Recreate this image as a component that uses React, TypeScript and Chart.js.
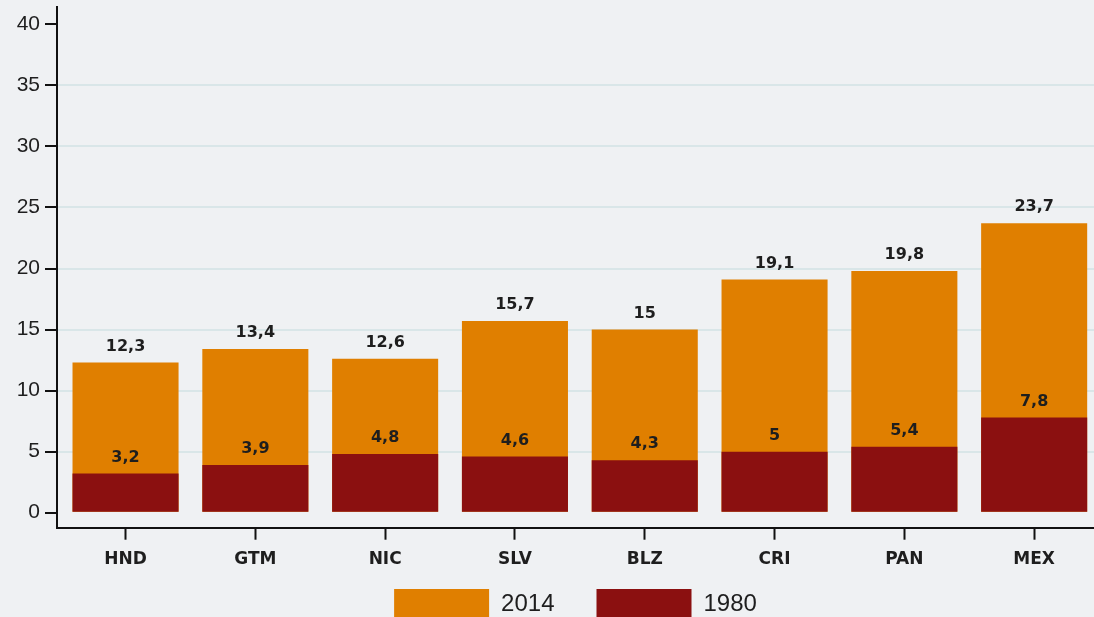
import React, { useEffect, useRef } from "react";
import { Chart, registerables } from "chart.js";

Chart.register(...registerables);

const categories = ["HND", "GTM", "NIC", "SLV", "BLZ", "CRI", "PAN", "MEX"];
const values2014 = [12.3, 13.4, 12.6, 15.7, 15, 19.1, 19.8, 23.7];
const values1980 = [3.2, 3.9, 4.8, 4.6, 4.3, 5, 5.4, 7.8];
const yTickValues = [0, 5, 10, 15, 20, 25, 30, 35, 40];
const seriesNames = ["2014", "1980"];

const fmt = (v: number) => String(v).replace(".", ",");

const valueLabels = {
  id: "valueLabels",
  afterDatasetsDraw(chart: any) {
    const ctx = chart.ctx;
    ctx.save();
    ctx.font = "bold 16px 'DejaVu Sans', sans-serif";
    ctx.fillStyle = "#1e1e1e";
    ctx.textAlign = "center";
    ctx.textBaseline = "middle";
    chart.data.datasets.forEach((ds: any, di: number) => {
      const meta = chart.getDatasetMeta(di);
      meta.data.forEach((bar: any, i: number) => {
        const v = ds.data[i].y;
        ctx.fillText(fmt(v), bar.x, bar.y - 16);
      });
    });
    ctx.restore();
  },
};

export default function App() {
  const ref = useRef<HTMLCanvasElement | null>(null);
  useEffect(() => {
    if (!ref.current) return;
    const chart = new Chart(ref.current, {
      type: "bar",
      data: {
        datasets: [
          {
            label: seriesNames[0],
            data: values2014.map((v, i) => ({ x: i, y: v })),
            backgroundColor: "#E07F00",
            grouped: false,
            order: 1,
            categoryPercentage: 1,
            barPercentage: 0.817,
          } as any,
          {
            label: seriesNames[1],
            data: values1980.map((v, i) => ({ x: i, y: v })),
            backgroundColor: "#8B1010",
            grouped: false,
            order: 0,
            categoryPercentage: 1,
            barPercentage: 0.817,
          } as any,
        ],
      },
      options: {
        responsive: false,
        animation: false,
        devicePixelRatio: 1,
        layout: { padding: { top: 7, left: 0, right: 0, bottom: 0 } },
        plugins: {
          tooltip: { enabled: false },
          legend: {
            position: "bottom",
            fullSize: false,
            labels: {
              boxWidth: 95,
              boxHeight: 30,
              padding: 42,
              color: "#1e1e1e",
              font: { family: "'Liberation Sans', Arial, sans-serif", size: 24 },
              sort: (a: any, b: any) => a.datasetIndex - b.datasetIndex,
            },
          },
        },
        scales: {
          x: {
            type: "linear",
            min: -0.528,
            max: 7.461,
            offset: false,
            afterBuildTicks: (scale: any) => {
              scale.ticks = categories.map((_, i) => ({ value: i }));
            },
            afterFit: (scale: any) => {
              scale.height = 19.3;
              scale.paddingLeft = 0;
              scale.paddingRight = 0;
              scale._computeLabelArea = () => undefined;
            },
            border: { display: true, color: "#111", width: 2 },
            grid: {
              offset: false,
              drawOnChartArea: false,
              drawTicks: true,
              tickLength: 12,
              tickColor: "#111",
              tickWidth: 2,
            },
            ticks: {
              padding: 10,
              autoSkip: false,
              maxRotation: 0,
              color: "#1e1e1e",
              font: { family: "'DejaVu Sans', sans-serif", size: 17, weight: "bold" },
              callback: (v: any) => categories[v] ?? "",
            },
          },
          y: {
            type: "linear",
            min: -1.23,
            max: 41.42,
            afterBuildTicks: (scale: any) => {
              scale.ticks = yTickValues.map((v) => ({ value: v }));
            },
            afterFit: (scale: any) => {
              scale.width = 57;
              scale.paddingTop = 0;
              scale.paddingBottom = 0;
            },
            border: { display: true, color: "#111", width: 2 },
            grid: {
              drawOnChartArea: true,
              color: (c: any) =>
                c.tick && c.tick.value > 0 && c.tick.value < 40 ? "#d9e6e8" : "rgba(0,0,0,0)",
              lineWidth: 2,
              tickLength: 12,
              tickColor: "#111",
              tickWidth: 2,
            },
            ticks: {
              padding: 5,
              color: "#1e1e1e",
              font: { family: "'Liberation Sans', Arial, sans-serif", size: 21 },
              callback: (v: any) => String(v),
            },
          },
        },
      },
      plugins: [valueLabels],
    });
    return () => chart.destroy();
  }, []);

  return (
    <div
      style={{
        position: "fixed",
        left: 0,
        top: 0,
        width: 1094,
        height: 617,
        overflow: "hidden",
        background: "#eff1f3",
      }}
    >
      <canvas ref={ref} width={1094} height={629} style={{ display: "block" }} />
    </div>
  );
}
